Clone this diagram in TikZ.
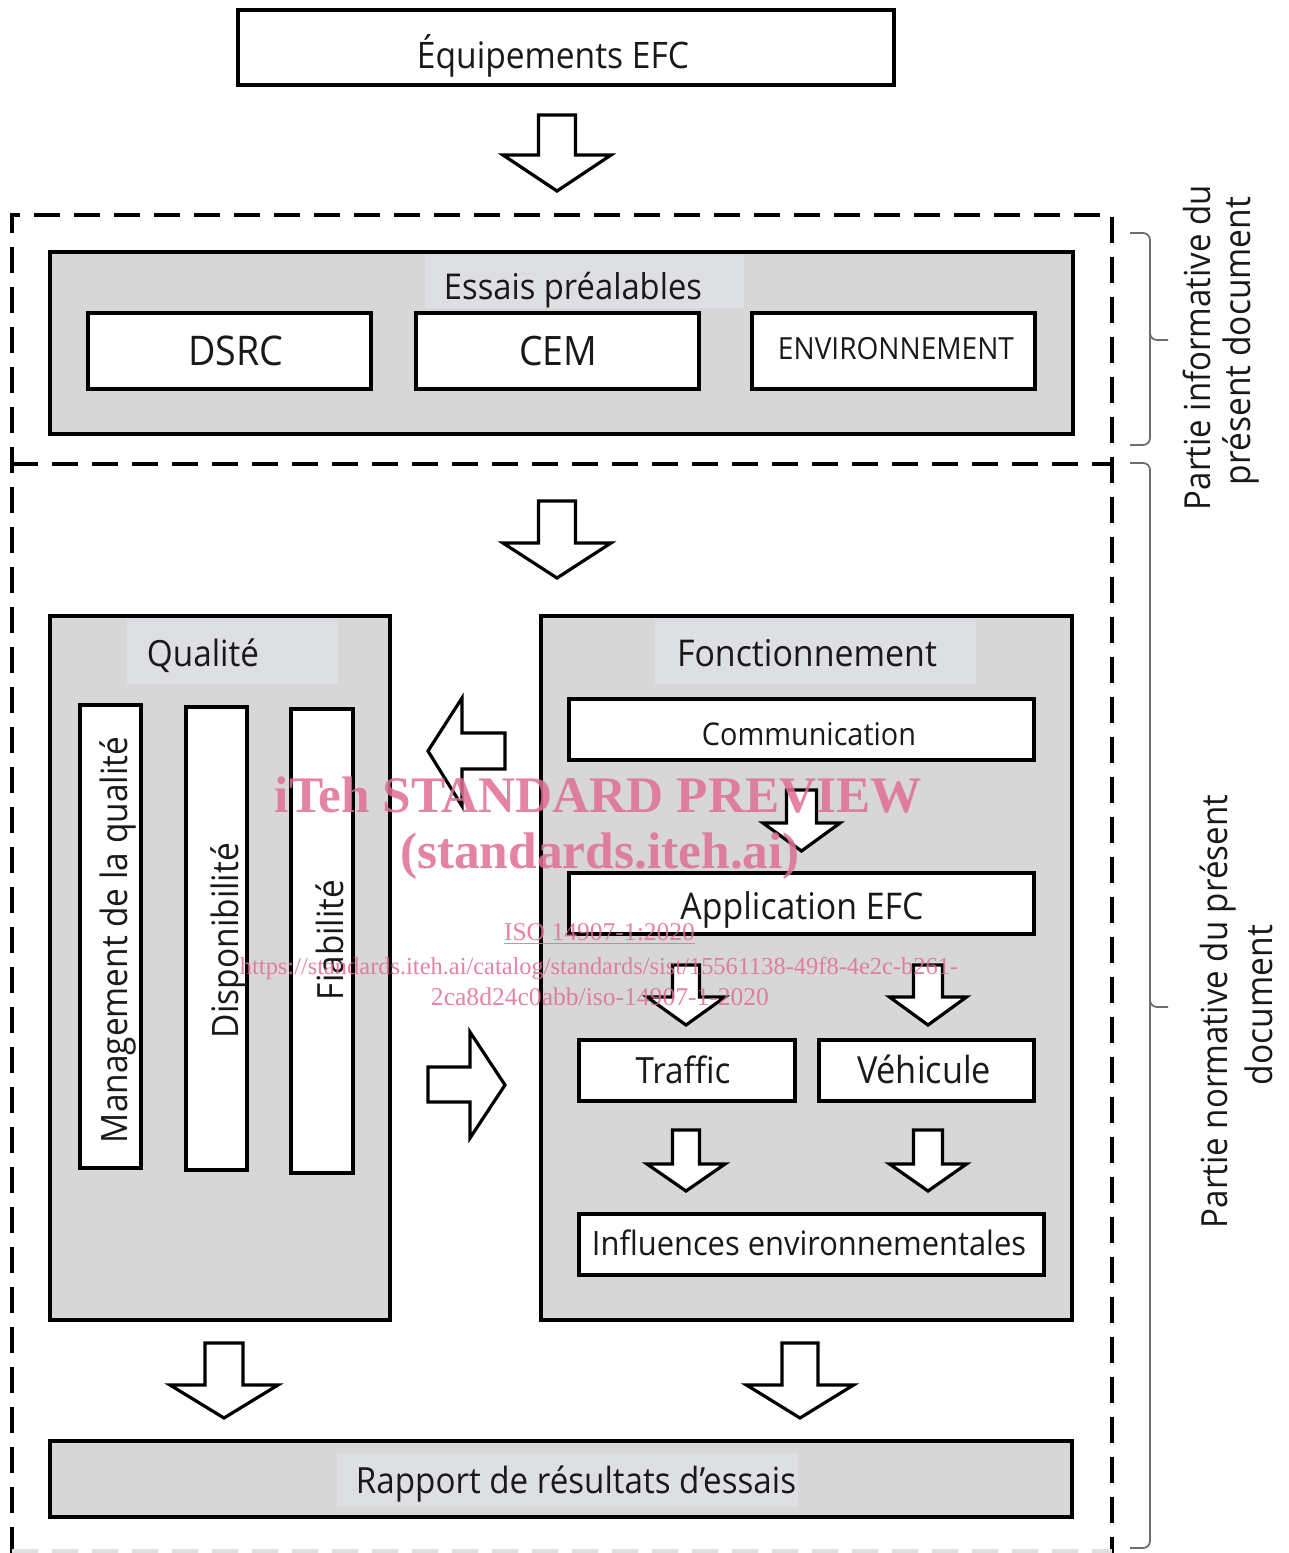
\documentclass[tikz,border=0pt]{standalone}
\usepackage{fontspec}
\usepackage{graphicx}
\setmainfont{Open Sans}[FakeStretch=0.92]
\newfontfamily\wmfont{Liberation Serif}
\definecolor{boxgray}{RGB}{215,215,215}
\definecolor{lblgray}{RGB}{222,223,226}
\definecolor{bracegray}{RGB}{110,110,110}
\definecolor{wmpink}{RGB}{225,110,150}
\newcommand{\fitw}[2]{\resizebox{#1pt}{!}{#2}}
\newcommand{\dnarrow}[6]{%
  \draw[blockarrow] (#1-#2,#3) -- (#1+#2,#3) -- (#1+#2,#4) -- (#1+#5,#4) -- (#1,#6) -- (#1-#5,#4) -- (#1-#2,#4) -- cycle;}
\begin{document}
\begin{tikzpicture}[x=1pt,y=-1pt,
  graybox/.style={draw=black,line width=3.5pt,fill=boxgray,inner sep=0pt},
  whitebox/.style={draw=black,line width=3.5pt,fill=white,inner sep=0pt},
  lblbg/.style={fill=lblgray,inner sep=0pt},
  txt/.style={anchor=base,inner sep=0pt,text=black!90},
  vtxt/.style={anchor=base,inner sep=0pt,rotate=90,text=black!90},
  blockarrow/.style={draw=black,line width=3.2pt,fill=white,line join=miter},
  dashline/.style={line width=3.5pt,dash pattern=on 26pt off 14pt},
  bracel/.style={draw=bracegray,line width=1.8pt,rounded corners=7pt},
  wm/.style={inner sep=0pt,anchor=base,text=wmpink,text opacity=0.85}]
\useasboundingbox (0,0) rectangle (1289,1553);
\fill[white] (0,0) rectangle (1289,1553);

% top box
\node[whitebox,minimum width=656pt,minimum height=75pt] (eq) at (566,47.5) {};
\node[txt] (eqt) at (553,68) {\fitw{272}{Équipements EFC}};
\dnarrow{557}{18.5}{115}{155}{54}{191}

% dashed frame
\draw[dashline] (12,1553) -- (12,215) -- (1112,215) -- (1112,1553);
\draw[dashline] (12,464) -- (1112,464);
\draw[dashline,draw=black!12] (12,1551) -- (1112,1551);

% essais préalables
\node[graybox,minimum width=1023pt,minimum height=182pt] (essais) at (561.5,343) {};
\node[lblbg,minimum width=319pt,minimum height=53pt] (essaisbg) at (584.5,281.5) {};
\node[txt] (essaist) at (573,299) {\fitw{258}{Essais préalables}};
\node[whitebox,minimum width=283pt,minimum height=76pt] (dsrc) at (229.5,351) {};
\node[whitebox,minimum width=283pt,minimum height=76pt] (cem) at (557.5,351) {};
\node[whitebox,minimum width=283pt,minimum height=76pt] (env) at (893.5,351) {};
\node[txt] (dsrct) at (236,365) {\fitw{95}{DSRC}};
\node[txt] (cemt) at (558,365) {\fitw{78}{CEM}};
\node[txt] (envt) at (896,359) {\fitw{236}{ENVIRONNEMENT}};

\dnarrow{557}{18.5}{501}{543}{54}{578}

% qualité
\node[graybox,minimum width=340pt,minimum height=704pt] (qual) at (220,968) {};
\node[lblbg,minimum width=211pt,minimum height=65pt] (qualbg) at (232.5,651.5) {};
\node[txt] (qualt) at (203,666) {\fitw{112}{Qualité}};
\node[whitebox,minimum width=61pt,minimum height=463pt] (mgmt) at (110.5,936.5) {};
\node[whitebox,minimum width=61pt,minimum height=463pt] (dispo) at (216.5,938.5) {};
\node[whitebox,minimum width=62pt,minimum height=464pt] (fiab) at (322,941) {};
\node[vtxt] (mgmtt) at (127,940) {\fitw{406}{Management de la qualité}};
\node[vtxt] (dispot) at (238,940.5) {\fitw{195}{Disponibilité}};
\node[vtxt] (fiabt) at (343,940) {\fitw{120}{Fiabilité}};

% fonctionnement
\node[graybox,minimum width=531pt,minimum height=704pt] (fonct) at (806.5,968) {};
\node[lblbg,minimum width=321pt,minimum height=65pt] (fonctbg) at (815.5,651.5) {};
\node[txt] (fonctt) at (807,666) {\fitw{260}{Fonctionnement}};
\node[whitebox,minimum width=465pt,minimum height=61pt] (comm) at (801.5,729.5) {};
\node[txt] (commt) at (809,745) {\fitw{214}{Communication}};
\node[whitebox,minimum width=465pt,minimum height=61pt] (app) at (801.5,903.5) {};
\node[txt] (appt) at (802,919) {\fitw{243}{Application EFC}};
\node[whitebox,minimum width=216pt,minimum height=61pt] (traf) at (687,1070.5) {};
\node[txt] (traft) at (683,1083) {\fitw{95}{Traffic}};
\node[whitebox,minimum width=215pt,minimum height=61pt] (veh) at (926.5,1070.5) {};
\node[txt] (veht) at (924,1083) {\fitw{134}{Véhicule}};
\node[whitebox,minimum width=465pt,minimum height=61pt] (infl) at (811.5,1244.5) {};
\node[txt] (inflt) at (809,1255) {\fitw{434}{Influences environnementales}};

\dnarrow{801.5}{15}{790}{823}{38.5}{851}
\dnarrow{686}{13.5}{965}{997}{39}{1025}
\dnarrow{928}{14.5}{965}{997}{38.5}{1025}
\dnarrow{686}{13.5}{1130}{1164}{39}{1191}
\dnarrow{928}{14.5}{1130}{1164}{38.5}{1191}

% horizontal block arrows
\draw[blockarrow] (505,733) -- (462,733) -- (462,698) -- (428,751) -- (462,806) -- (462,769) -- (505,769) -- cycle;
\draw[blockarrow] (428,1067) -- (470,1067) -- (470,1032) -- (505,1085) -- (470,1138) -- (470,1102) -- (428,1102) -- cycle;

% to report
\dnarrow{224}{19}{1343}{1385}{54}{1418}
\dnarrow{800}{18}{1343}{1385}{53.5}{1418}
\node[graybox,minimum width=1022pt,minimum height=76pt] (rapport) at (561,1479) {};
\node[lblbg,minimum width=461pt,minimum height=54pt] (rapportbg) at (567.5,1480) {};
\node[txt] (rapportt) at (576,1493) {\fitw{440}{Rapport de résultats d’essais}};

% braces
\draw[bracel] (1130,233) -| (1150,340) -- (1168,340);
\draw[bracel] (1150,330) |- (1130,445);
\draw[bracel] (1130,463) -| (1150,1007) -- (1168,1007);
\draw[bracel] (1150,997) |- (1130,1548);
\node[vtxt] (inf1) at (1210,347.5) {\fitw{325}{Partie informative du}};
\node[vtxt] (inf2) at (1250,341) {\fitw{288}{présent document}};
\node[vtxt] (norm1) at (1227,1011.5) {\fitw{433}{Partie normative du présent}};
\node[vtxt] (norm2) at (1272,1005) {\fitw{160}{document}};

% watermark
\node[wm] (wm1) at (598.5,812) {\fitw{647}{\wmfont\bfseries iTeh STANDARD PREVIEW}};
\node[wm] (wm2) at (600,868) {\fitw{400}{\wmfont\bfseries (standards.iteh.ai)}};
\node[wm] (wm3) at (599.5,940) {\fitw{191}{\wmfont\underline{ISO 14907-1:2020}}};
\node[wm] (wm4) at (599,974) {\fitw{718}{\wmfont https://standards.iteh.ai/catalog/standards/sist/15561138-49f8-4e2c-b261-}};
\node[wm] (wm5) at (600,1005) {\fitw{338}{\wmfont 2ca8d24c0abb/iso-14907-1-2020}};
\end{tikzpicture}
\end{document}
